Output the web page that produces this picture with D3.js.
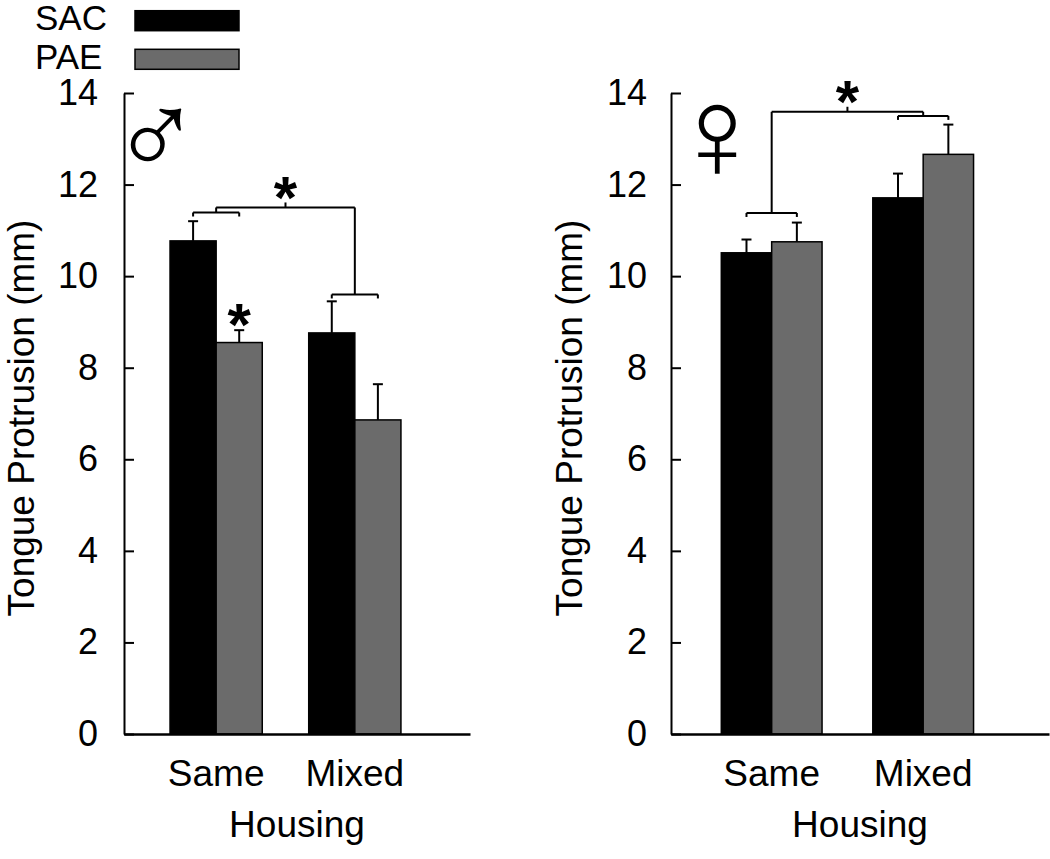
<!DOCTYPE html>
<html>
<head>
<meta charset="utf-8">
<script src="https://cdn.jsdelivr.net/npm/d3@7"></script>
<style>
  html, body { margin: 0; padding: 0; background: #fff; }
  svg { display: block; }
  text { font-family: "Liberation Sans", Arial, Helvetica, sans-serif; fill: #000; }
</style>
</head>
<body>
<svg id="chart" width="1050" height="859"></svg>
<script>
// ---- data ----
const categories = ["Same", "Mixed"];
const series = ["SAC", "PAE"];
const yTicks = [0, 2, 4, 6, 8, 10, 12, 14];

const maleSAC = [10.77, 8.76];
const maleSACErr = [0.43, 0.69];
const malePAE = [8.55, 6.86];
const malePAEErr = [0.27, 0.78];

const femaleSAC = [10.51, 11.71];
const femaleSACErr = [0.29, 0.53];
const femalePAE = [10.75, 12.66];
const femalePAEErr = [0.42, 0.65];

const colors = { SAC: "#000000", PAE: "#6b6b6b" };

// ---- layout ----
const svg = d3.select("#chart");
const FS = 37;
const y0 = 734, y1 = 93;
const STAR = 60;

function star(g, cx, cy) {
  g.append("text").attr("x", cx).attr("y", cy + 0.49 * STAR)
    .attr("text-anchor", "middle").attr("font-weight", "bold")
    .attr("font-size", STAR).text("*");
}

function panel(cfg) {
  const g = svg.append("g");
  const y = d3.scaleLinear().domain([0, 14]).range([y0, y1]);
  const x = d3.scaleBand().domain(categories).range([cfg.x0, cfg.x1])
    .paddingInner(0.335).paddingOuter(0.415).align(0.4);
  const xs = d3.scaleBand().domain(series).range([0, x.bandwidth()]).padding(0);

  const rows = [];
  categories.forEach((c, i) => {
    rows.push({ cat: c, ser: "SAC", v: cfg.sac[i], e: cfg.sacErr[i] });
    rows.push({ cat: c, ser: "PAE", v: cfg.pae[i], e: cfg.paeErr[i] });
  });

  // error bars (upward only)
  const cx = d => x(d.cat) + xs(d.ser) + xs.bandwidth() / 2;
  g.selectAll("line.err").data(rows).join("line")
    .attr("x1", cx).attr("x2", cx)
    .attr("y1", d => y(d.v)).attr("y2", d => y(d.v + d.e))
    .attr("stroke", "#000").attr("stroke-width", 2);
  g.selectAll("line.cap").data(rows).join("line")
    .attr("x1", d => cx(d) - 5).attr("x2", d => cx(d) + 5)
    .attr("y1", d => y(d.v + d.e)).attr("y2", d => y(d.v + d.e))
    .attr("stroke", "#000").attr("stroke-width", 2);

  // bars
  g.selectAll("rect.bar").data(rows).join("rect")
    .attr("x", d => x(d.cat) + xs(d.ser))
    .attr("y", d => y(d.v))
    .attr("width", xs.bandwidth())
    .attr("height", d => y(0) - y(d.v))
    .attr("fill", d => colors[d.ser])
    .attr("stroke", "#000").attr("stroke-width", 1.5);

  // y axis
  const ya = d3.axisLeft(y).tickValues(yTicks).tickSize(-10).tickSizeOuter(0)
    .tickPadding(cfg.tickPad).tickFormat(d3.format("d"));
  const yg = g.append("g").attr("transform", `translate(${cfg.x0},0)`).call(ya);
  yg.selectAll("path,line").attr("stroke", "#000").attr("stroke-width", 2);
  yg.selectAll("text").attr("font-size", 36).attr("font-family", '"Liberation Sans", Arial, sans-serif').attr("fill", "#000");

  // x axis
  const xa = d3.axisBottom(x).tickSize(0).tickSizeOuter(0).tickPadding(26);
  const xg = g.append("g").attr("transform", `translate(0,${y0})`).call(xa);
  xg.select("path").attr("stroke", "#000").attr("stroke-width", 2.5);
  xg.selectAll("text").attr("font-size", FS).attr("font-family", '"Liberation Sans", Arial, sans-serif').attr("fill", "#000");

  // axis titles
  g.append("text")
    .attr("transform", `translate(${cfg.titleX},418) rotate(-90)`)
    .attr("text-anchor", "middle").attr("font-size", FS)
    .text("Tongue Protrusion (mm)");
  g.append("text")
    .attr("x", (cfg.x0 + cfg.x1) / 2).attr("y", 837)
    .attr("text-anchor", "middle").attr("font-size", FS)
    .text("Housing");

  // sex symbol
  g.append("text")
    .attr("x", cfg.symX).attr("y", cfg.symY)
    .attr("text-anchor", "middle")
    .attr("font-family", '"Liberation Sans", Arial, sans-serif')
    .attr("font-size", cfg.symSize)
    .text(cfg.sym);

  // brackets
  const barC = (c, s) => x(c) + xs(s) + xs.bandwidth() / 2;
  const grpC = c => x(c) + x.bandwidth() / 2;
  const line = (x1, y1_, x2, y2_) => g.append("line")
    .attr("x1", x1).attr("y1", y1_).attr("x2", x2).attr("y2", y2_)
    .attr("stroke", "#000").attr("stroke-width", 2);
  const b = cfg.br;
  categories.forEach((c, i) => {
    const yy = y(b.small[i]);
    const l = barC(c, "SAC"), r = barC(c, "PAE");
    line(l, yy + b.tip, l, yy); line(l, yy, r, yy); line(r, yy, r, yy + b.tip);
  });
  const yMain = y(b.main);
  line(grpC("Same"), y(b.small[0]), grpC("Same"), yMain);
  line(grpC("Mixed"), y(b.small[1]), grpC("Mixed"), yMain);
  line(grpC("Same"), yMain, grpC("Mixed"), yMain);
  const mid = (grpC("Same") + grpC("Mixed")) / 2;
  line(mid, yMain, mid, yMain - 5);
  star(g, mid, yMain - 19);

  return { g, x, xs, y };
}

const male = panel({
  x0: 124, x1: 470, tickPad: 26, titleX: 34,
  sac: maleSAC, sacErr: maleSACErr, pae: malePAE, paeErr: malePAEErr,
  sym: "♂", symX: 156, symY: 176, symSize: 120,
  br: { small: [11.39, 9.6], main: 11.5, tip: 4 }
});
// star above PAE Same bar (male)
{
  const d = { c: "Same", v: malePAE[0] + malePAEErr[0] };
  const cx = male.x(d.c) + male.xs("PAE") + male.xs.bandwidth() / 2;
  star(male.g, cx, male.y(d.v) - 15);
}

const female = panel({
  x0: 671, x1: 1049, tickPad: 24, titleX: 582,
  sac: femaleSAC, sacErr: femaleSACErr, pae: femalePAE, paeErr: femalePAEErr,
  sym: "♀", symX: 717, symY: 179, symSize: 132,
  br: { small: [11.38, 13.5], main: 13.59, tip: 4 }
});

// legend
const leg = svg.append("g");
series.forEach((s, i) => {
  const yy = 10.7 + i * 38.6;
  leg.append("rect").attr("x", 135).attr("y", yy).attr("width", 104).attr("height", 20)
    .attr("fill", colors[s]).attr("stroke", "#000").attr("stroke-width", 1.5);
  leg.append("text").attr("x", 35).attr("y", yy + 19.5).attr("font-size", 35).text(s);
});
</script>
</body>
</html>
